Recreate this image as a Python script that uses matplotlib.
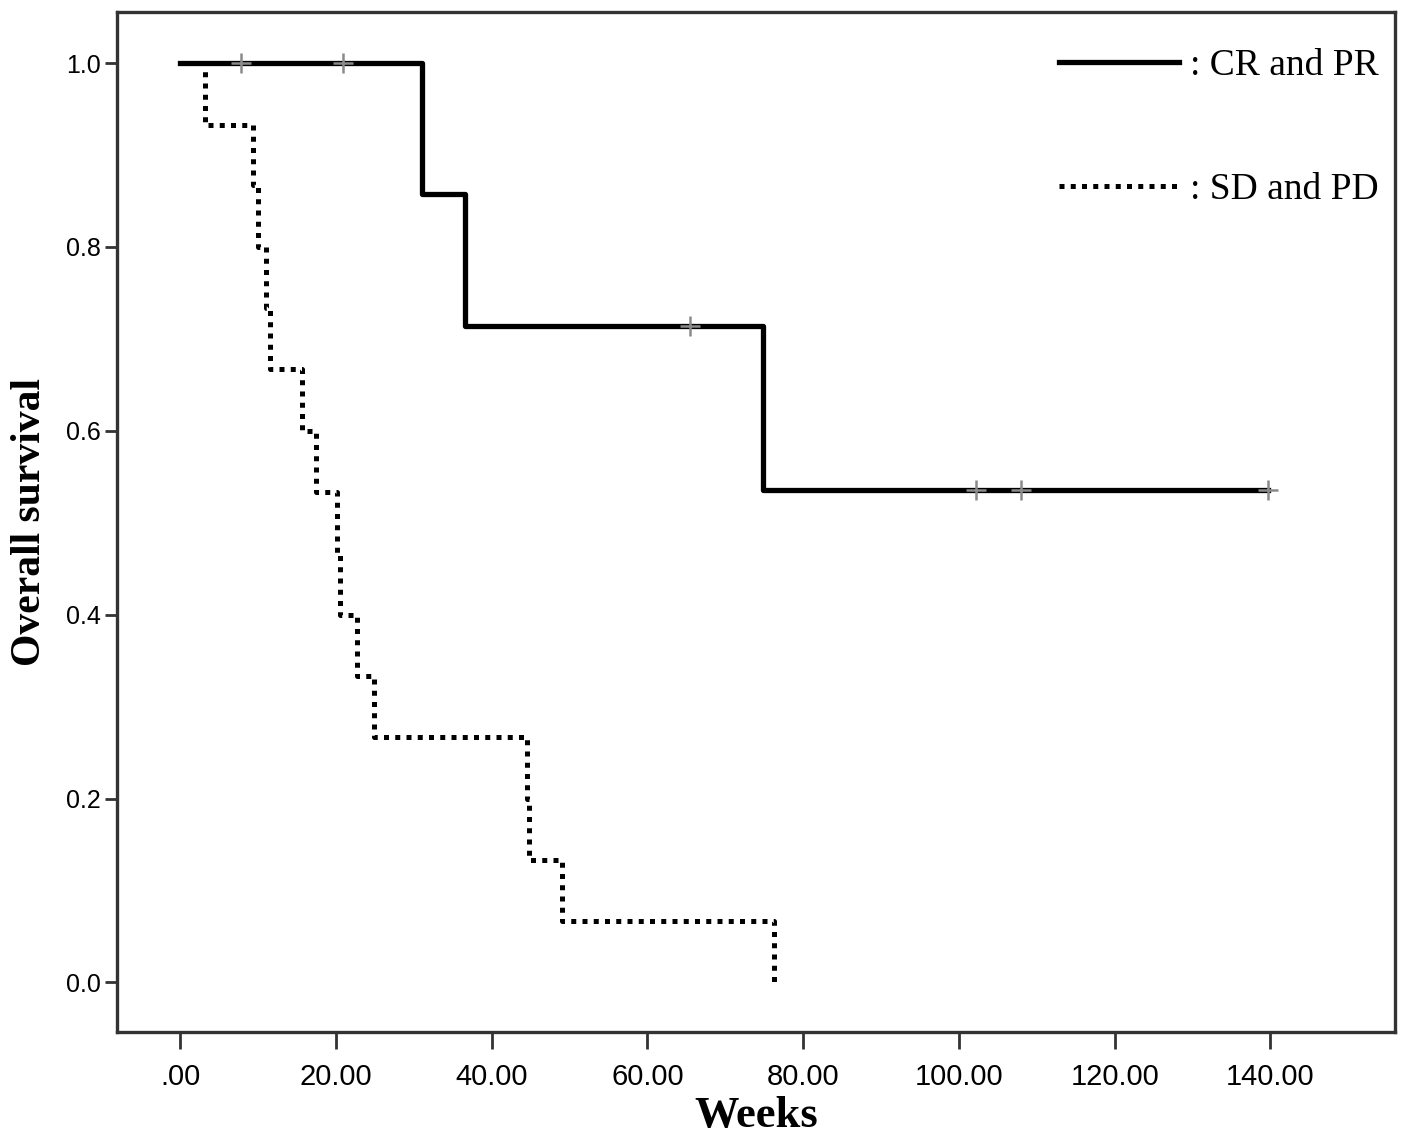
import matplotlib
matplotlib.use("Agg")
import matplotlib.pyplot as plt
from matplotlib.lines import Line2D

# Kaplan-Meier steps
cr_times = [0.0, 31.1, 36.6, 74.8, 139.7]
cr_surv = [1.0, 0.857, 0.714, 0.536, 0.536]
cr_cens_t = [7.8, 20.9, 65.5, 102.2, 108.0, 139.7]
cr_cens_s = [1.0, 1.0, 0.714, 0.536, 0.536, 0.536]

sd_times = [0.0, 3.2, 9.4, 10.0, 11.0, 11.6, 15.6, 17.5, 20.2, 20.5,
            22.7, 24.9, 44.5, 44.85, 49.0, 76.3]
sd_surv = [1.0, 0.933, 0.867, 0.800, 0.733, 0.667, 0.600, 0.533, 0.467,
           0.400, 0.333, 0.267, 0.200, 0.133, 0.067, 0.0]

xticks = [0, 20, 40, 60, 80, 100, 120, 140]
xlabels = ['.00', '20.00', '40.00', '60.00', '80.00', '100.00', '120.00', '140.00']
yticks = [0.0, 0.2, 0.4, 0.6, 0.8, 1.0]
ylabels = ['0.0', '0.2', '0.4', '0.6', '0.8', '1.0']

fig = plt.figure(figsize=(14.17, 11.42), dpi=100)
ax = fig.add_axes([0.0826, 0.0963, 0.9019, 0.8932])

ax.step(sd_times, sd_surv, where='post', color='black', lw=3.6,
        dashes=(1.0, 1.25), dash_capstyle='butt')
ax.step(cr_times, cr_surv, where='post', color='black', lw=3.8)
ax.plot(cr_cens_t, cr_cens_s, ls='none', marker='+', ms=14, mew=1.8,
        color='#8a8a8a')

ax.set_xlim(-8.1, 156.0)
ax.set_ylim(-0.054, 1.0555)
ax.set_xticks(xticks)
ax.set_xticklabels(xlabels, fontsize=21, family='Liberation Sans')
ax.set_yticks(yticks)
ax.set_yticklabels(ylabels, fontsize=18, family='Liberation Sans')
ax.tick_params(axis='x', length=12, width=2, color='#333333', pad=10)
ax.tick_params(axis='y', length=9, width=2, color='#333333', pad=3)
for s in ax.spines.values():
    s.set_linewidth(2.4)
    s.set_color('#333333')

ax.set_xlabel('Weeks', fontsize=32, fontweight='bold',
              family='Liberation Serif', labelpad=4)
ax.set_ylabel('Overall survival', fontsize=30, fontweight='bold',
              family='Liberation Serif', labelpad=12)

handles = [Line2D([], [], color='black', lw=3.8),
           Line2D([], [], color='black', lw=3.6, dashes=(1.0, 1.25),
                  dash_capstyle='butt')]
ax.legend(handles, [': CR and PR', ': SD and PD'], loc='upper right',
          bbox_to_anchor=(1.008, 0.99), frameon=False, handlelength=3.2,
          handletextpad=0.3, labelspacing=2.4, borderaxespad=0.3,
          prop={'family': 'Liberation Serif', 'size': 27})

fig.savefig('out.png', dpi=100)
